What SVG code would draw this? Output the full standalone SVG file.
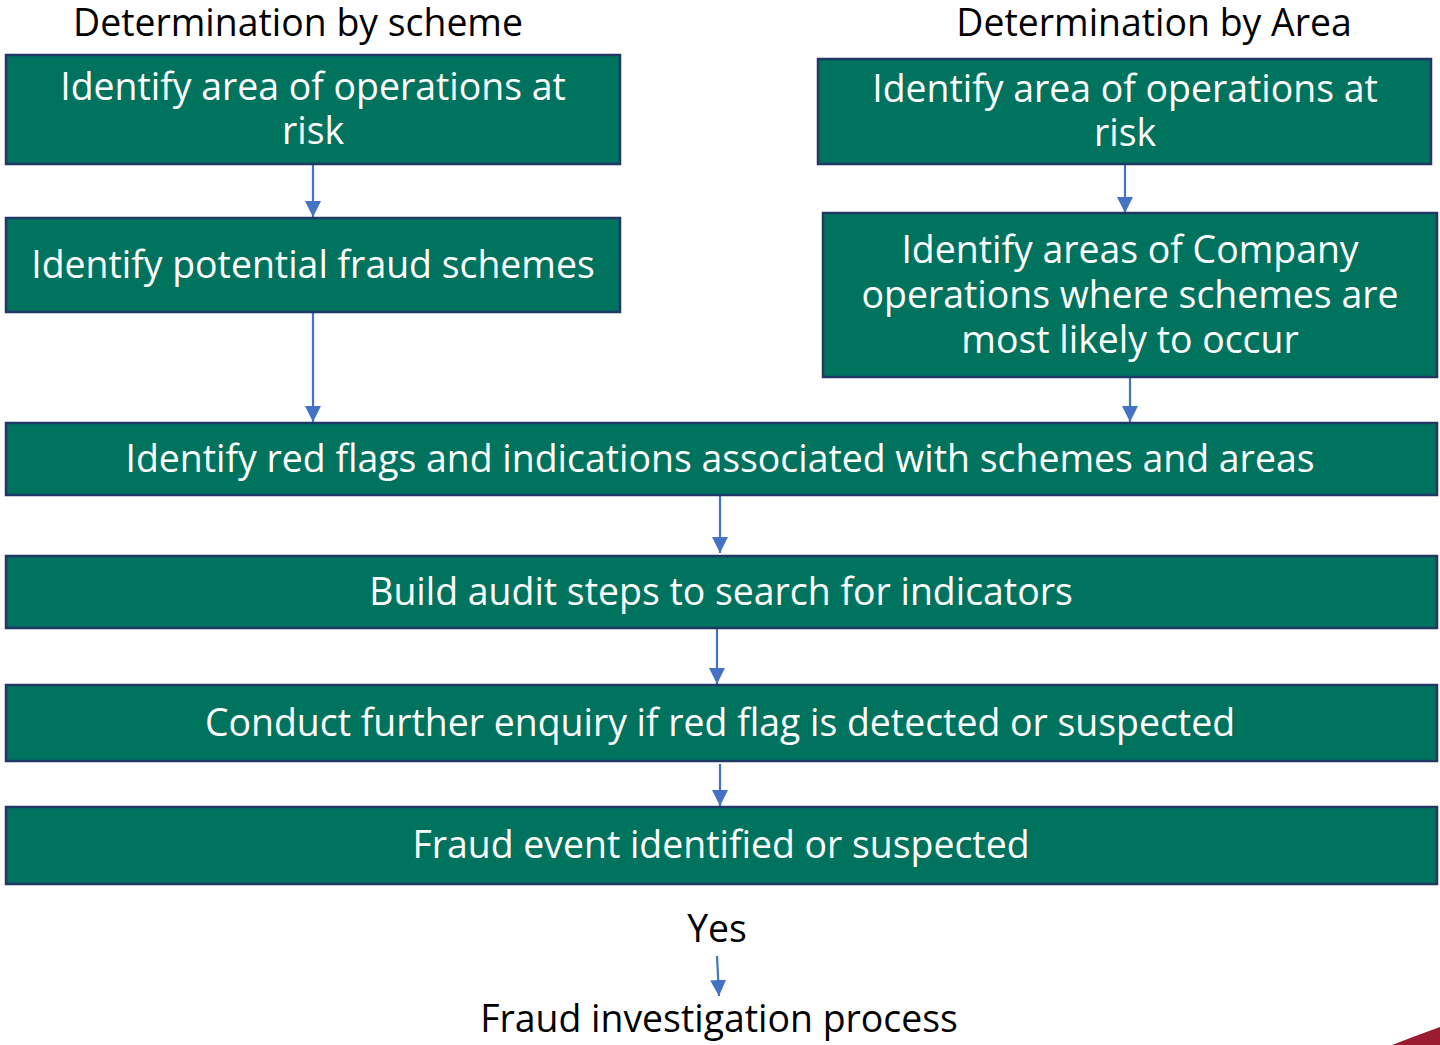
<svg xmlns="http://www.w3.org/2000/svg" width="1440" height="1045" viewBox="0 0 1440 1045">
<style>
.box{fill:#00735F;stroke:#203864;stroke-width:2.5}
.wt{font-family:"Open Sans","Noto Sans",sans-serif;font-size:37.4px;fill:#ffffff;text-anchor:middle}
.bt{font-family:"Open Sans","Noto Sans",sans-serif;font-size:37.4px;fill:#000000;text-anchor:middle}
.conn{stroke:#4472C4;stroke-width:2.2;fill:none;marker-end:url(#ahb)}
</style>
<defs>
<marker id="ahb" viewBox="0 0 16 16" refX="16" refY="8" markerWidth="16" markerHeight="16" markerUnits="userSpaceOnUse" orient="auto">
<path d="M0,0 L16,8 L0,16 z" fill="#4472C4"/>
</marker>
</defs>
<rect width="1440" height="1045" fill="#ffffff"/>
<g id="titles">
<text class="bt" x="298" y="36">Determination by scheme</text>
<text class="bt" x="1154" y="36">Determination by Area</text>
</g>
<g id="connectors">
<line class="conn" x1="313" y1="165" x2="313" y2="217"/>
<line class="conn" x1="313" y1="313" x2="313" y2="422"/>
<line class="conn" x1="1125" y1="165" x2="1125" y2="213"/>
<line class="conn" x1="1130" y1="378" x2="1130" y2="422"/>
<line class="conn" x1="720" y1="496" x2="720" y2="553"/>
<line class="conn" x1="717" y1="629" x2="717" y2="684"/>
<line class="conn" x1="720" y1="764" x2="720" y2="806"/>
<line class="conn" x1="717" y1="956" x2="719" y2="996"/>
</g>
<g id="n1">
<rect class="box" x="6" y="55" width="614" height="109"/>
<text class="wt" x="313" y="100">Identify area of operations at</text>
<text class="wt" x="313" y="144">risk</text>
</g>
<g id="n2">
<rect class="box" x="6" y="218" width="614" height="94"/>
<text class="wt" x="313" y="278">Identify potential fraud schemes</text>
</g>
<g id="n3">
<rect class="box" x="818" y="59" width="613" height="105"/>
<text class="wt" x="1125" y="102">Identify area of operations at</text>
<text class="wt" x="1125" y="146">risk</text>
</g>
<g id="n4">
<rect class="box" x="823" y="213" width="614" height="164"/>
<text class="wt" x="1130" y="263">Identify areas of Company</text>
<text class="wt" x="1130" y="308">operations where schemes are</text>
<text class="wt" x="1130" y="353">most likely to occur</text>
</g>
<g id="n5">
<rect class="box" x="6" y="423" width="1431" height="72"/>
<text class="wt" x="720" y="472">Identify red flags and indications associated with schemes and areas</text>
</g>
<g id="n6">
<rect class="box" x="6" y="556" width="1431" height="72"/>
<text class="wt" x="721" y="605">Build audit steps to search for indicators</text>
</g>
<g id="n7">
<rect class="box" x="6" y="685" width="1431" height="76"/>
<text class="wt" x="720" y="736">Conduct further enquiry if red flag is detected or suspected</text>
</g>
<g id="n8">
<rect class="box" x="6" y="807" width="1431" height="77"/>
<text class="wt" x="721" y="858">Fraud event identified or suspected</text>
</g>
<g id="n9">
<text class="bt" x="717" y="942">Yes</text>
</g>
<g id="n10">
<text class="bt" x="719" y="1032">Fraud investigation process</text>
</g>
<path d="M1392,1045 Q1415,1036 1440,1027 L1440,1045 Z" fill="#9B1B30"/>
</svg>
